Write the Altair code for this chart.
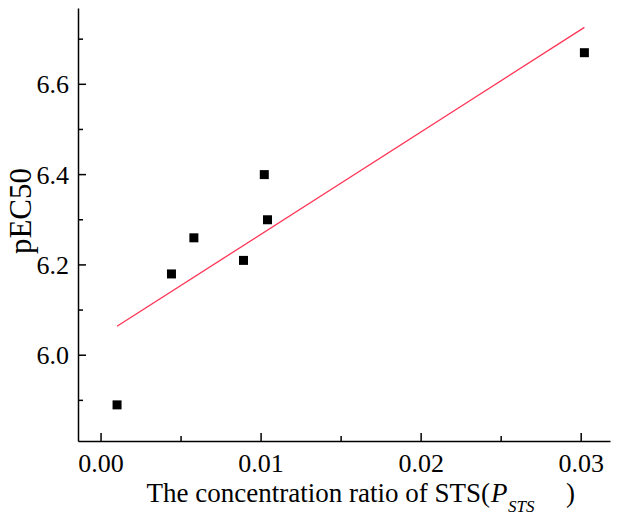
import altair as alt
import pandas as pd

# data
ratio = [0.001, 0.0044, 0.0058, 0.0089, 0.0102, 0.0104, 0.0302]
pec50 = [5.89, 6.18, 6.26, 6.21, 6.40, 6.30, 6.67]
fit_x = [0.001, 0.0302]
fit_y = [6.064, 6.726]
x_major = [0.0, 0.01, 0.02, 0.03]
x_labels = ["0.00", "0.01", "0.02", "0.03"]
x_minor = [0.005, 0.015, 0.025]
y_major = [6.0, 6.2, 6.4, 6.6]
y_labels = ["6.0", "6.2", "6.4", "6.6"]
y_minor = [5.9, 6.1, 6.3, 6.5, 6.7]
x_title_main = "The concentration ratio of STS("
x_title_p = "P"
x_title_sub = "STS"
x_title_end = ")"
y_title = "pEC50"

FONT = "Liberation Serif"
W, H = 532, 433

pts = pd.DataFrame({"ratio": ratio, "pec": pec50})
fit = pd.DataFrame({"x": fit_x, "y": fit_y})

xs = alt.Scale(domain=[-0.00144, 0.0318], nice=False, zero=False)
ys = alt.Scale(domain=[5.81, 6.769], nice=False, zero=False)

ax_x_main = alt.Axis(ticks=False, labels=False, grid=False, title=None,
                     domainWidth=1.5, domainColor="black")
ax_y_main = alt.Axis(ticks=False, labels=False, grid=False, title=None,
                     domainWidth=1.5, domainColor="black")

points = alt.Chart(pts).mark_square(size=81, color="black", opacity=1).encode(
    x=alt.X("ratio:Q", scale=xs, axis=ax_x_main),
    y=alt.Y("pec:Q", scale=ys, axis=ax_y_main),
)

line = alt.Chart(fit).mark_line(color="#ff3355", strokeWidth=1.3).encode(
    x=alt.X("x:Q"),
    y=alt.Y("y:Q"),
)


def xticks(vals, length):
    return alt.Chart(pd.DataFrame({"v": vals})).mark_rule(color="black", strokeWidth=1.5).encode(
        x=alt.X("v:Q"), y=alt.value(H), y2=alt.value(H - length))


def yticks(vals, length):
    return alt.Chart(pd.DataFrame({"v": vals})).mark_rule(color="black", strokeWidth=1.5).encode(
        y=alt.Y("v:Q"), x=alt.value(0), x2=alt.value(length))


x_tick_labels = alt.Chart(pd.DataFrame({"v": x_major, "t": x_labels})).mark_text(
    font=FONT, fontSize=26, align="center", baseline="alphabetic", color="black"
).encode(x=alt.X("v:Q"), y=alt.value(H + 31), text="t:N")

y_tick_labels = alt.Chart(pd.DataFrame({"v": y_major, "t": y_labels})).mark_text(
    font=FONT, fontSize=26, align="right", baseline="alphabetic", color="black", dy=9
).encode(y=alt.Y("v:Q"), x=alt.value(-9), text="t:N")


def txt(s, x, y, size, italic=False, align="left", angle=None):
    kw = dict(font=FONT, fontSize=size, align=align, baseline="alphabetic", color="black")
    if italic:
        kw["fontStyle"] = "italic"
    if angle is not None:
        kw["angle"] = angle
    return alt.Chart(pd.DataFrame({"t": [s]})).mark_text(**kw).encode(
        text="t:N", x=alt.value(x), y=alt.value(y))


t_main = txt(x_title_main, 412, 494, 27, align="right")
t_p = txt(x_title_p, 413, 494, 27, italic=True)
t_sub = txt(x_title_sub, 430, 504, 17, italic=True)
t_end = txt(x_title_end, 488, 494, 27)
t_y = txt(y_title, -47, 203, 31, align="center", angle=270)

chart = alt.layer(
    points, line,
    xticks(x_major, 8), xticks(x_minor, 5), yticks(y_major, 8), yticks(y_minor, 5),
    x_tick_labels, y_tick_labels,
    t_main, t_p, t_sub, t_end, t_y,
).properties(
    width=W, height=H,
    autosize=alt.AutoSizeParams(type="none"),
    padding={"left": 70, "top": 0, "right": 2, "bottom": 75},
).configure_view(stroke=None)

chart.save("out.html", embed_options={"renderer": "svg", "actions": False})
